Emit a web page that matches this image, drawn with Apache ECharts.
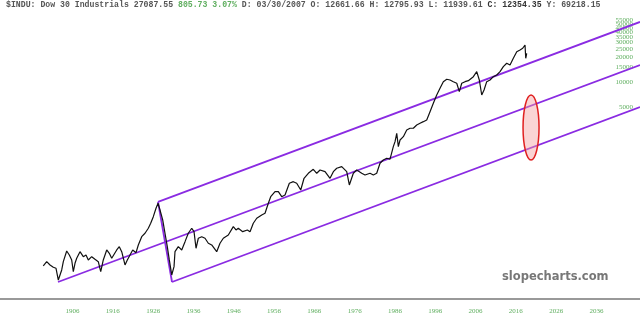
<!DOCTYPE html>
<html>
<head>
<meta charset="utf-8">
<script src="https://cdn.jsdelivr.net/npm/echarts@6/dist/echarts.min.js"></script>
<style>
  html, body { margin: 0; padding: 0; background: #fff; }
  #chart { width: 640px; height: 323px; }
</style>
</head>
<body>
<div id="chart"></div>
<script>
// Dow 30 Industrials, log scale
var dowYears = [1898.74,1899.59,1900.41,1901.23,1901.90,1902.47,1903.31,1903.71,1904.55,1905.20,1905.79,1906.19,1906.61,1907.03,1907.85,1908.67,1909.34,1909.91,1910.75,1911.57,1912.39,1912.99,1913.63,1914.48,1915.12,1915.72,1916.11,1916.96,1917.60,1918.20,1919.02,1919.59,1920.26,1920.93,1921.75,1922.32,1923.16,1923.98,1924.80,1925.39,1926.04,1926.71,1927.21,
  1927.70,1928.37,1928.94,1929.51,1930.01,1930.61,1931.18,1931.42,1931.85,1932.24,1933.09,1933.91,1934.72,1935.57,1936.14,1936.64,1937.21,1938.05,1938.87,1939.69,1940.53,1941.77,1942.59,1943.41,1944.65,1945.89,1946.56,1947.13,1948.22,1949.37,1950.04,1950.85,1951.70,1952.94,1953.76,1954.58,1955.17,1956.24,1957.06,1957.90,1958.72,1959.79,1960.78,1961.62,1962.62,1963.44,1964.50,1965.74,1966.59,1967.41,1968.65,1969.89,1970.71,1971.55,1972.79,1974.03,1974.68,1975.67,1976.51,1977.75,1978.57,1979.81,1980.63,1981.47,1982.29,1983.11,1983.96,1984.78,
  1985.59,1986.02,1986.44,1986.84,1987.26,1988.08,1988.92,1989.74,1990.56,1991.40,1992.22,1993.04,1993.88,1994.70,1995.52,1996.36,1997.18,1998.00,1998.85,1999.66,2000.48,2001.33,2001.97,2002.57,2003.39,2004.21,2005.45,2006.29,2006.93,2007.53,2008.10,2008.77,2009.59,2010.41,2011.25,2012.07,2012.89,2013.73,2014.55,2015.37,2016.22,2017.03,2017.70,2018.27,2018.45,2018.69];
var dowValues = [61.0,68.7,62.7,58.8,57.2,41.3,54.6,68.7,92.4,82.7,72.0,52.0,65.7,75.5,90.6,78.9,82.7,72.0,78.9,73.4,68.7,52.0,72.0,95.0,86.7,75.5,78.9,95.0,104.1,90.6,62.7,72.0,82.7,95.0,88.1,109.1,137.3,150.9,173.3,199.1,239.0,301.7,346.7,
  287.8,218.2,150.9,104.1,72.0,47.5,59.8,90.6,86.7,104.1,95.0,119.6,150.9,173.3,157.7,99.6,131.4,137.3,131.4,114.4,109.1,90.6,114.4,131.4,143.9,181.2,165.3,173.3,157.7,165.3,157.7,199.1,228.7,250.6,262.7,346.7,416.0,477.9,477.9,416.0,436.1,603.4,630.6,603.4,501.1,692.9,796.0,889.3,796.0,872.3,832.1,692.9,832.1,914.4,955.9,832.1,575.6,796.0,872.3,796.0,759.4,796.0,759.4,796.0,1050,1151,1206,1180,
  1664,1911,2412,1664,2003,2195,2643,2771,2771,3037,3184,3328,3488,4390,5541,6973,8400,10083,10777,10570,10083,9647,7641,9647,10083,10366,11583,13304,10570,6973,8010,10083,10570,11583,12141,13304,15287,16797,16020,19290,23160,24280,25450,27880,19290,22150];

// channel lines [year, value]
var upperLine = [[1927.21, 359.4], [2046.8, 52770]];
var middleLine = [[1902.39, 39.1], [2046.8, 16020]];
var lowerLine = [[1930.68, 39.1], [2046.8, 5000]];
var crashLine = [[1927.21, 359.4], [1930.68, 39.1]];

// highlighted zone: [year0, low, year1, high]
var zone = [[2017.78, 1151, 2021.75, 6973]];

var xTicks = [1906,1916,1926,1936,1946,1956,1966,1976,1986,1996,2006,2016,2026,2036];
var yTicks = [5000,10000,15000,20000,25000,30000,35000,40000,45000,50000,55000,60000];

var dowData = dowYears.map(function (y, i) { return [y, dowValues[i]]; });

var chart = echarts.init(document.getElementById('chart'));
var purple = '#8a2be2';
var green = '#5fae5f';

var option = {
  animation: false,
  backgroundColor: '#fff',
  grid: { left: 0, right: 0, top: 0, bottom: 24 },
  title: {
    left: 6,
    top: 1,
    padding: 0,
    text: '{a|$INDU: Dow 30 Industrials 27087.55 }{g|805.73 3.07%}{a| D: 03/30/2007 O: 12661.66 H: 12795.93 L: 11939.61 }{b|C: 12354.35}{a| Y: 69218.15}',
    textStyle: {
      rich: {
        a: { fontFamily: 'Liberation Mono', fontSize: 8.2, color: '#555' },
        g: { fontFamily: 'Liberation Mono', fontSize: 8.2, color: green },
        b: { fontFamily: 'Liberation Mono', fontSize: 8.2, color: '#333', fontWeight: 'bold' }
      }
    }
  },
  graphic: [
    {
      type: 'text',
      left: 502,
      top: 271,
      style: { text: 'slopecharts.com', font: 'bold 11.5px "DejaVu Sans"', fill: '#777' }
    }
  ],
  xAxis: {
    type: 'value',
    min: 1888,
    max: 2046.8,
    axisLine: { onZero: false, lineStyle: { color: '#999', width: 2 } },
    axisTick: { show: false },
    splitLine: { show: false },
    axisLabel: {
      customValues: xTicks,
      formatter: function (v) { return String(Math.round(v)); },
      color: green,
      fontFamily: 'Liberation Serif',
      fontSize: 7,
      margin: 9
    }
  },
  yAxis: {
    type: 'log',
    logBase: 10,
    position: 'right',
    min: 24.4,
    max: 97000,
    axisLine: { show: false },
    axisTick: { show: false },
    splitLine: { show: false },
    axisLabel: {
      inside: true,
      customValues: yTicks,
      formatter: function (v) { return String(Math.round(v)); },
      color: green,
      fontFamily: 'Liberation Serif',
      fontSize: 7,
      margin: 7
    }
  },
  series: [
    {
      type: 'line',
      data: dowData,
      showSymbol: false,
      lineStyle: { color: '#111', width: 1.2 },
      z: 3
    },
    { type: 'line', data: upperLine, showSymbol: false, lineStyle: { color: purple, width: 1.8 }, z: 2 },
    { type: 'line', data: middleLine, showSymbol: false, lineStyle: { color: purple, width: 1.8 }, z: 2 },
    { type: 'line', data: lowerLine, showSymbol: false, lineStyle: { color: purple, width: 1.8 }, z: 2 },
    { type: 'line', data: crashLine, showSymbol: false, lineStyle: { color: purple, width: 1.8 }, z: 2 },
    {
      type: 'custom',
      data: zone,
      encode: { x: [0, 2], y: [1, 3] },
      z: 4,
      renderItem: function (params, api) {
        var p1 = api.coord([api.value(0), api.value(1)]);
        var p2 = api.coord([api.value(2), api.value(3)]);
        var cx = (p1[0] + p2[0]) / 2, cy = (p1[1] + p2[1]) / 2;
        var rx = Math.abs(p2[0] - p1[0]) / 2, ry = Math.abs(p2[1] - p1[1]) / 2;
        var d = 'M' + (cx - rx) + ',' + cy +
          ' A' + rx + ',' + ry + ' 0 1 0 ' + (cx + rx) + ',' + cy +
          ' A' + rx + ',' + ry + ' 0 1 0 ' + (cx - rx) + ',' + cy + ' Z';
        return {
          type: 'path',
          shape: { pathData: d },
          style: { fill: 'rgba(245,160,160,0.45)', stroke: '#e02020', lineWidth: 1.5 }
        };
      }
    }
  ]
};

chart.setOption(option);
</script>
</body>
</html>
